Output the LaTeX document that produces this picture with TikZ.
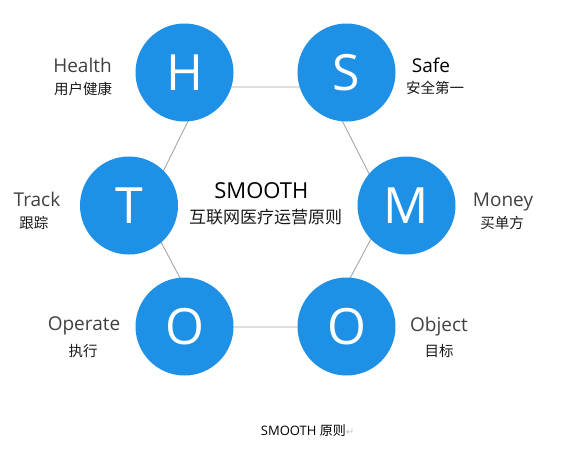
\documentclass[tikz,border=0pt]{standalone}
\usepackage{fontspec}
\setmainfont{Open Sans}
\newfontfamily\cjk{Noto Sans CJK SC}
\newfontfamily\symb{DejaVu Sans}
\usepackage{tikz}
\usetikzlibrary{positioning}
\usepackage{xcolor}
\definecolor{smoothblue}{RGB}{30,145,230}
\definecolor{linkgray}{RGB}{165,165,165}
\definecolor{labelgray}{RGB}{64,64,64}
\definecolor{markgray}{RGB}{195,195,195}

\begin{document}
\begin{tikzpicture}[
    x=1pt, y=-1pt,
    letter/.style={
        circle, fill=smoothblue, minimum size=98pt, inner sep=0pt,
        text=white, font=\fontsize{50}{50}\selectfont
    },
    en/.style={anchor=base, inner sep=0pt, text=labelgray, font=\fontsize{19}{19}\selectfont},
    zh/.style={inner sep=0pt, text=black!90, font=\cjk\fontsize{14.5}{14.5}\selectfont},
    link/.style={draw=linkgray, line width=0.9pt}
]
\useasboundingbox (0,0) rectangle (564,450);

% Hexagon corners (hidden behind the circles)
\coordinate (hH)  at (205,87);
\coordinate (hS)  at (325,87);
\coordinate (hM)  at (387,209);
\coordinate (hOb) at (324,327);
\coordinate (hOp) at (206,327);
\coordinate (hT)  at (144,210);
\draw[link] (hH) -- (hS) -- (hM) -- (hOb) -- (hOp) -- (hT) -- cycle;

% Letter circles
\foreach \n/\x/\y in {H/184.5/72.5, S/346.5/72.5, T/129/205.5, M/406.5/205.5} {
    \node[letter] (\n) at (\x,\y) {\n};
}
\node[letter] (Op) at (184.5,326.5) {O};
\node[letter] (Ob) at (346.5,326.5) {O};

% Labels
\node[en] (health)   at (82.5,72.7) {Health};
\node[zh] (healthzh) at (83,89) {用户健康};
\node[en, text=black] (safe) at (431,72.7) {Safe};
\node[zh] (safezh)   at (435,88) {安全第一};
\node[en] (track)    at (37,206) {Track};
\node[zh] (trackzh)  at (34,222.5) {跟踪};
\node[en] (money)    at (503,206.5) {Money};
\node[zh] (moneyzh)  at (502,222.5) {买单方};
\node[en] (operate)  at (84,330.5) {Operate};
\node[zh] (operatezh) at (83,351) {执行};
\node[en] (object)   at (439,331) {Object};
\node[zh] (objectzh) at (439,351) {目标};

% Centre title
\node[en, text=black, font=\fontsize{22}{22}\selectfont] (smooth) at (261.3,198.3) {SMOOTH};
\node[zh, font=\cjk\fontsize{17}{17}\selectfont] (smoothzh) at (265.7,217.5) {互联网医疗运营原则};

% Caption
\node[anchor=west, inner sep=0pt, font=\fontsize{13}{13}\selectfont] (caption) at (260.7,430.5)
    {SMOOTH {\cjk 原则}{\symb\color{markgray}\fontsize{10}{10}\selectfont ↵}};

\end{tikzpicture}
\end{document}
